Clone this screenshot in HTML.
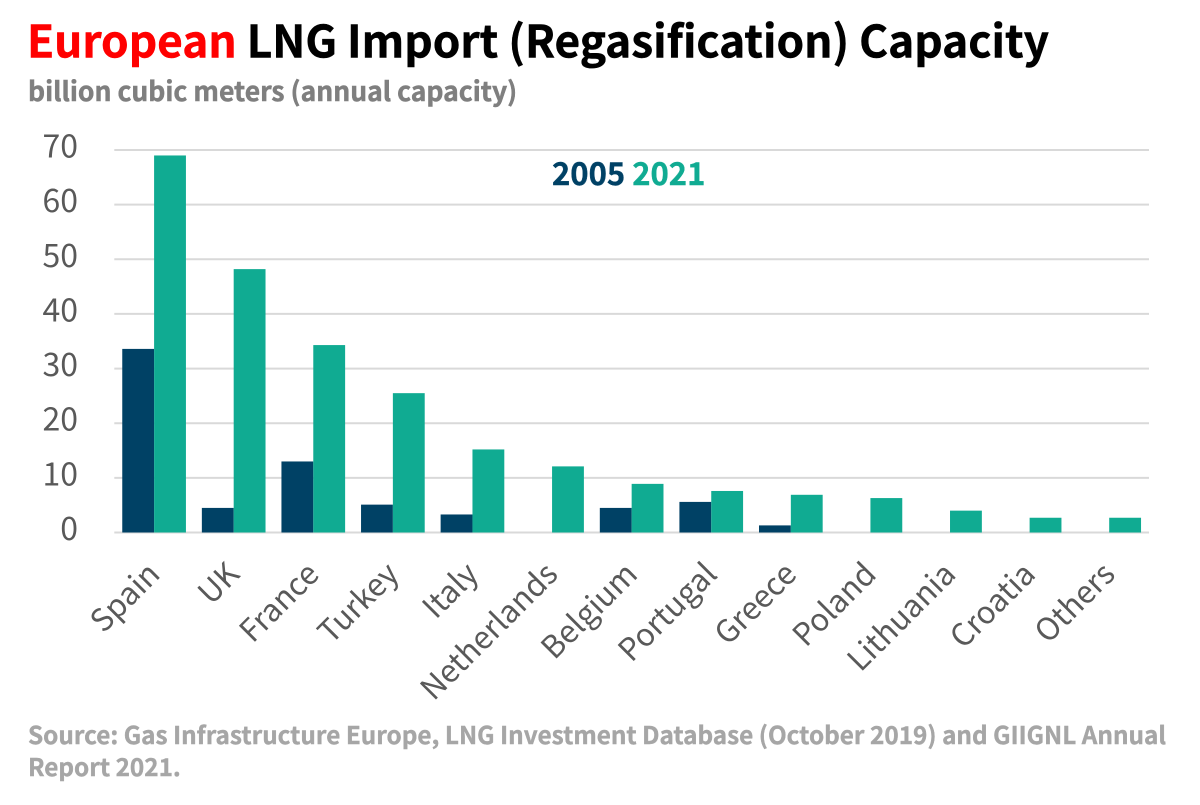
<!DOCTYPE html>
<html lang="en">
<head>
<meta charset="utf-8">
<title>European LNG Import (Regasification) Capacity</title>
<style>
html,body{margin:0;padding:0;background:#fff;width:1200px;height:805px;overflow:hidden}
svg{display:block;font-family:"Noto Sans CJK JP","Liberation Sans",sans-serif}
</style>
</head>
<body>
<svg id="chart" width="1200" height="805" viewBox="0 0 1200 805" xmlns="http://www.w3.org/2000/svg">
<text x="27" y="57.5" font-size="44.2" font-weight="700" fill="#000" stroke="#000" stroke-width="0.5"><tspan fill="#ff0000" stroke="#ff0000">European</tspan> LNG Import (Regasification) Capacity</text>
<text x="28" y="101" font-size="26.5" font-weight="700" fill="#7f7f7f" stroke="#7f7f7f" stroke-width="0.5">billion cubic meters (annual capacity)</text>
<g id="grid"></g>
<g id="bars"></g>
<g id="yticks"></g>
<g id="xticks"></g>
<text x="552" y="185" font-size="31" font-weight="700" stroke-width="0.4"><tspan fill="#004165" stroke="#004165">2005</tspan> <tspan fill="#10ab92" stroke="#10ab92">2021</tspan></text>
<text x="28" y="744" font-size="24.3" font-weight="700" fill="#a6a6a6" stroke="#a6a6a6" stroke-width="0.4">Source: Gas Infrastructure Europe, LNG Investment Database (October 2019) and GIIGNL Annual</text>
<text x="28" y="776" font-size="24.3" font-weight="700" fill="#a6a6a6" stroke="#a6a6a6" stroke-width="0.4">Report 2021.</text>
</svg>
<script>
const categories = ["Spain","UK","France","Turkey","Italy","Netherlands","Belgium","Portugal","Greece","Poland","Lithuania","Croatia","Others"];
const values2005 = [33.6,4.5,13,5.1,3.3,0,4.5,5.6,1.3,0,0,0,0];
const values2021 = [69,48.2,34.3,25.5,15.2,12.1,8.9,7.6,6.9,6.3,4,2.7,2.7];
const yTicks = [0,10,20,30,40,50,60,70];

const NS = "http://www.w3.org/2000/svg";
const plotLeft = 114.3, plotRight = 1149, y0 = 532.5, y70 = 150;
const yScale = v => y0 - (v / 70) * (y0 - y70);
const band = (plotRight - plotLeft) / categories.length;
const xCenter = i => plotLeft + band * (i + 0.5);
const barW = band / 2.5;

const grid = document.getElementById("grid");
const bars = document.getElementById("bars");
const yticks = document.getElementById("yticks");
const xticks = document.getElementById("xticks");

yTicks.forEach(t => {
  const l = document.createElementNS(NS, "line");
  
  
  l.setAttribute("x1", plotLeft);
  l.setAttribute("x2", plotRight);
  l.setAttribute("y1", yScale(t));
  l.setAttribute("y2", yScale(t));
  l.setAttribute("stroke", "#d9d9d9");
  l.setAttribute("stroke-width", "2");
  grid.appendChild(l);
  const s = document.createElementNS(NS, "text");
  
  
  s.setAttribute("x", 78);
  s.setAttribute("y", yScale(t) + 7.5);
  s.setAttribute("text-anchor", "end");
  s.setAttribute("font-size", "32");
  s.setAttribute("fill", "#595959");
  s.textContent = t;
  yticks.appendChild(s);
});

function addBar(v, x, fill, name) {
  if (v <= 0) return;
  const r = document.createElementNS(NS, "rect");
  
  
  r.setAttribute("x", x);
  r.setAttribute("y", yScale(v));
  r.setAttribute("width", barW);
  r.setAttribute("height", y0 - yScale(v));
  r.setAttribute("fill", fill);
  bars.appendChild(r);
}

categories.forEach((c, i) => {
  addBar(values2005[i], xCenter(i) - barW, "#004165", "bar-2005");
  addBar(values2021[i], xCenter(i), "#10ab92", "bar-2021");
  const t = document.createElementNS(NS, "text");
  
  
  const ax = xCenter(i) + 7.5, ay = 576;
  t.setAttribute("x", ax);
  t.setAttribute("y", ay);
  t.setAttribute("text-anchor", "end");
  t.setAttribute("font-size", "31");
  t.setAttribute("fill", "#595959");
  t.setAttribute("transform", "rotate(-45 " + ax + " " + ay + ")");
  t.textContent = c;
  xticks.appendChild(t);
});
</script>
</body>
</html>
